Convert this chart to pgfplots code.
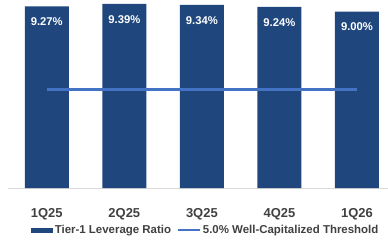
\documentclass[border=0pt]{standalone}
\usepackage{pgfplots}
\pgfplotsset{compat=1.18}
\usepackage{fontspec}
\setmainfont{Liberation Sans}
\definecolor{barblue}{HTML}{1F477D}
\definecolor{lineblue}{HTML}{4472C4}
\begin{document}
\begin{tikzpicture}
\path[use as bounding box] (-8bp,-56bp) rectangle (380bp,188bp);
\begin{axis}[
  at={(0,0)}, anchor=south west,
  scale only axis, width=380bp, height=188bp,
  xmin=-0.5, xmax=4.4, ymin=0, ymax=9.59,
  axis y line=none,
  axis x line*=bottom,
  x axis line style={draw=black!15, line width=0.8pt, -},
  xtick={0,1,2,3,4},
  xticklabels={1Q25,2Q25,3Q25,4Q25,1Q26},
  major tick length=0pt,
  /pgf/number format/assume math mode=true,
  xticklabel style={font=\fontsize{13}{14}\selectfont\bfseries, text=black!75, yshift=-17bp},
  legend columns=2,
  legend style={at={(0.52,-0.225)}, anchor=center, draw=none, fill=none,
    font=\fontsize{11.5}{13}\selectfont\bfseries, text=black!75,
    /tikz/every even column/.append style={column sep=4bp},
    inner sep=0pt},
  clip=false,
]
\addplot[ybar, bar width=44bp, fill=barblue, draw=none,
  nodes near coords={\pgfmathprintnumber[fixed,fixed zerofill,precision=2,assume math mode=true]{\pgfplotspointmeta}\%},
  every node near coord/.append style={anchor=north, text=white, font=\fontsize{11.3}{13}\selectfont\bfseries, yshift=-8bp},
  legend image code/.code={\fill[barblue] (0bp,-2.5bp) rectangle (22bp,2.5bp);}
] coordinates {(0,9.27) (1,9.39) (2,9.34) (3,9.24) (4,9.00)};
\addlegendentry{Tier-1 Leverage Ratio}
\addplot[lineblue, line width=3pt, mark=none,
  legend image code/.code={\draw[lineblue, line width=1.8pt] (0bp,0bp) -- (22bp,0bp);}
] coordinates {(0,5) (4,5)};
\addlegendentry{5.0\% Well-Capitalized Threshold}
\end{axis}
\end{tikzpicture}
\end{document}
